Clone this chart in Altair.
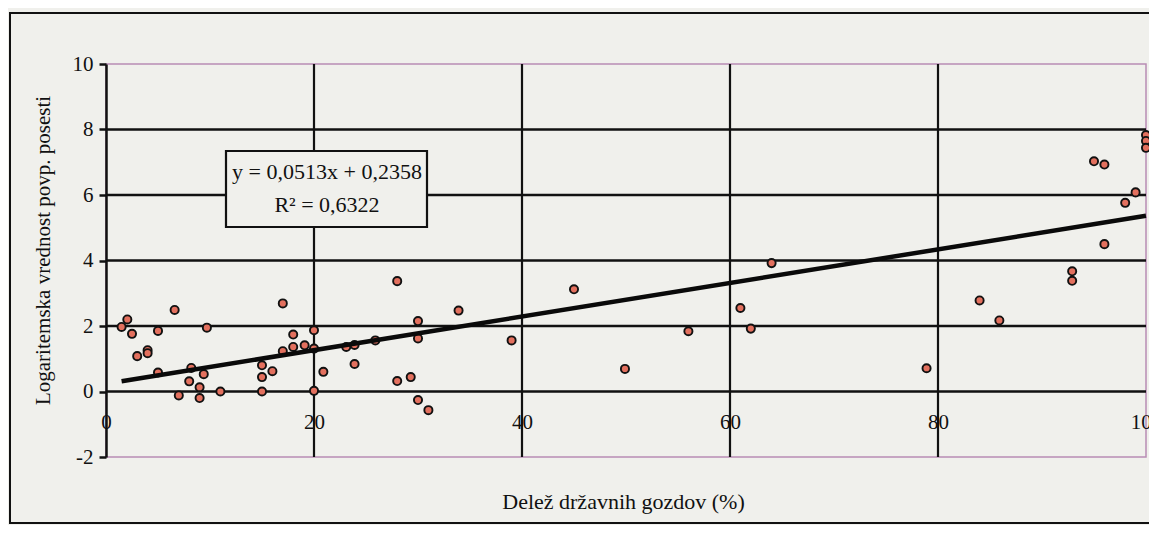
import altair as alt
import pandas as pd

# --- data ---
SHARE_X = [1.5, 2.05, 2.5, 3.0, 4.0, 4.0, 5.0, 5.0, 6.6, 7.0, 8.0, 8.2, 9.0, 9.0, 9.4, 9.7,
           11.0, 15.0, 15.0, 15.0, 16.0, 17.0, 17.0, 18.0, 18.0, 19.1, 20.0, 20.0, 20.0,
           20.9, 23.1, 23.9, 23.9, 25.9,
           28.0, 28.0, 29.3, 30.0, 30.0, 30.0, 31.0, 33.9, 39.0, 45.0, 49.9,
           56.0, 61.0, 62.0, 64.0,
           78.9, 84.0, 85.9, 92.9, 92.9, 96.0, 95.0, 96.0, 98.0, 99.0, 100.0, 100.0, 100.0]
LOG_VALUE = [1.97, 2.2, 1.76, 1.08, 1.26, 1.17, 1.85, 0.58, 2.49, -0.12, 0.31, 0.72, 0.13, -0.2,
             0.53, 1.95, 0.0, 0.8, 0.44, 0.0, 0.62, 2.69, 1.23, 1.74, 1.36, 1.41, 1.87, 1.31,
             0.02, 0.6, 1.36, 1.42, 0.84, 1.56,
             3.37, 0.32, 0.44, 2.15, 1.62, -0.26, -0.57, 2.47, 1.56, 3.12, 0.69,
             1.84, 2.55, 1.92, 3.92,
             0.71, 2.78, 2.17, 3.67, 3.38, 4.5, 7.03, 6.93, 5.76, 6.08, 7.83, 7.65, 7.44]

TREND_SLOPE = 0.0513
TREND_INTERCEPT = 0.2358
TREND_X = [1.5, 100.0]

X_TICKS = [0, 20, 40, 60, 80, 100]
Y_TICKS = [-2, 0, 2, 4, 6, 8, 10]
GRID_X = [20, 40, 60, 80]
GRID_Y = [0, 2, 4, 6, 8]

X_TITLE = "Delež državnih gozdov (%)"
Y_TITLE = "Logaritemska vrednost povp. posesti"
EQ_LINE1 = "y = 0,0513x + 0,2358"
EQ_LINE2 = "R² = 0,6322"

FONT = "Liberation Serif"
BG = "#f0f0ec"
W, H = 1040, 393

points = pd.DataFrame({"x": SHARE_X, "y": LOG_VALUE})
trend = pd.DataFrame({"x": TREND_X, "y": [TREND_SLOPE * v + TREND_INTERCEPT for v in TREND_X]})
gx = pd.DataFrame({"x": GRID_X})
gy = pd.DataFrame({"y": GRID_Y})
one = pd.DataFrame({"k": [0]})

xscale = alt.Scale(domain=[0, 100], nice=False, zero=False)
yscale = alt.Scale(domain=[-2, 10], nice=False, zero=False)

xaxis = alt.Axis(values=X_TICKS, offset=-65.5, domain=False, ticks=False, tickSize=0,
                 labelPadding=31, labelBaseline="middle", labelFont=FONT, labelFontSize=21,
                 labelColor="#111", labelFlush=False, labelOverlap=False,
                 title=X_TITLE, titleFont=FONT, titleFontSize=22, titleFontWeight="normal",
                 titleColor="#111", titleX=517, titleY=110, titleBaseline="middle",
                 titleAlign="center", titleAnchor="middle", grid=False)
yaxis = alt.Axis(values=Y_TICKS, domain=True, domainColor="#111", domainWidth=2.5,
                 ticks=True, tickColor="#111", tickWidth=2.5, tickSize=7, labelPadding=6,
                 labelExpr="datum.value < 0 ? '-' + abs(datum.value) : '' + datum.value",
                 labelFont=FONT, labelFontSize=21, labelColor="#111", labelFlush=False,
                 title=Y_TITLE, titleFont=FONT, titleFontSize=21, titleFontWeight="normal",
                 titleColor="#111", titleX=-63, titleY=186, titleAngle=270,
                 titleBaseline="middle", titleAlign="center", grid=False)

hgrid = alt.Chart(gy).mark_rule(color="#111", strokeWidth=2.5).encode(
    y=alt.Y("y:Q", scale=yscale, axis=yaxis))
vgrid = alt.Chart(gx).mark_rule(color="#111", strokeWidth=2.2).encode(
    x=alt.X("x:Q", scale=xscale, axis=xaxis))

dots = alt.Chart(points).mark_point(
    shape="circle", filled=True, fill="#e3705e", stroke="#111", strokeWidth=1.9,
    size=66, opacity=1).encode(
    x=alt.X("x:Q", scale=xscale), y=alt.Y("y:Q", scale=yscale))

trend_line = alt.Chart(trend).mark_line(color="#0a0a0a", strokeWidth=4.5).encode(
    x=alt.X("x:Q", scale=xscale), y=alt.Y("y:Q", scale=yscale))

box = alt.Chart(one).mark_rect(fill=BG, stroke="#111", strokeWidth=2.2).encode(
    x=alt.value(120), x2=alt.value(321), y=alt.value(87), y2=alt.value(163))
t1 = alt.Chart(one).mark_text(font=FONT, fontSize=22, color="#111", align="center",
                              baseline="alphabetic").encode(
    x=alt.value(221), y=alt.value(115), text=alt.value(EQ_LINE1))
t2 = alt.Chart(one).mark_text(font=FONT, fontSize=22, color="#111", align="center",
                              baseline="alphabetic").encode(
    x=alt.value(221), y=alt.value(148), text=alt.value(EQ_LINE2))

border = alt.Chart(one).mark_rect(fillOpacity=0, stroke="#111", strokeWidth=2).encode(
    x=alt.value(-96), x2=alt.value(1070), y=alt.value(-51), y2=alt.value(459))

chart = alt.layer(hgrid, vgrid, dots, trend_line, box, t1, t2, border).properties(
    width=W, height=H,
    autosize=alt.AutoSizeParams(type="none"),
    padding={"left": 98, "top": 56, "right": 3, "bottom": 68},
    background=BG,
).configure_view(stroke="#b88cb4", strokeWidth=1.5)

chart.save("out.html", embed_options={"renderer": "svg", "actions": False})
